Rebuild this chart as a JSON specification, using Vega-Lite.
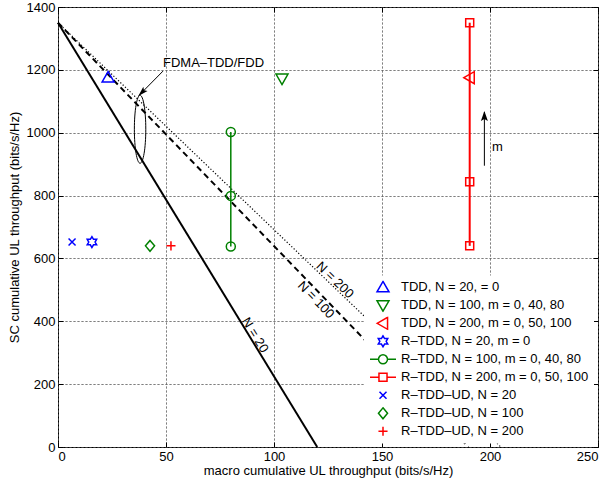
{
  "$schema": "https://vega.github.io/schema/vega-lite/v6.json",
  "width": 540,
  "height": 440,
  "autosize": {"type": "none"},
  "padding": {"left": 58, "top": 7, "right": 11, "bottom": 35},
  "background": "white",
  "config": {
    "font": "Liberation Sans",
    "view": {"stroke": "black", "strokeWidth": 1},
    "axis": {
      "labelFont": "Liberation Sans", "labelFontSize": 13, "labelColor": "black",
      "titleFont": "Liberation Sans", "titleFontSize": 13, "titleFontWeight": "normal", "titleColor": "black",
      "domain": false, "tickColor": "black", "tickSize": -5, "tickWidth": 1,
      "gridColor": "#555555", "gridDash": [1, 3], "gridWidth": 1, "labelPadding": 8
    },
    "text": {"font": "Liberation Sans", "fontSize": 13, "color": "black"}
  },
  "datasets": {
    "pts": [
      {"series": "TDD, N = 20, = 0", "x": 23.2, "y": 1176},
      {"series": "TDD, N = 100, m = 0, 40, 80", "x": 103.7, "y": 1172},
      {"series": "TDD, N = 200, m = 0, 50, 100", "x": 190.6, "y": 1175},
      {"series": "R–TDD, N = 20, m = 0", "x": 15.7, "y": 652},
      {"series": "R–TDD, N = 100, m = 0, 40, 80", "x": 80, "y": 638},
      {"series": "R–TDD, N = 100, m = 0, 40, 80", "x": 80, "y": 799},
      {"series": "R–TDD, N = 100, m = 0, 40, 80", "x": 80, "y": 1002},
      {"series": "R–TDD, N = 200, m = 0, 50, 100", "x": 190.6, "y": 640},
      {"series": "R–TDD, N = 200, m = 0, 50, 100", "x": 190.6, "y": 844},
      {"series": "R–TDD, N = 200, m = 0, 50, 100", "x": 190.6, "y": 1350},
      {"series": "R–TDD–UD, N = 20", "x": 6.5, "y": 652},
      {"series": "R–TDD–UD, N = 100", "x": 42.6, "y": 640},
      {"series": "R–TDD–UD, N = 200", "x": 52.3, "y": 640}
    ],
    "legendrows": [
      {"series": "TDD, N = 20, = 0"},
      {"series": "TDD, N = 100, m = 0, 40, 80"},
      {"series": "TDD, N = 200, m = 0, 50, 100"},
      {"series": "R–TDD, N = 20, m = 0"},
      {"series": "R–TDD, N = 100, m = 0, 40, 80"},
      {"series": "R–TDD, N = 200, m = 0, 50, 100"},
      {"series": "R–TDD–UD, N = 20"},
      {"series": "R–TDD–UD, N = 100"},
      {"series": "R–TDD–UD, N = 200"}
    ]
  },
  "layer": [
    {
      "data": {"values": [{"x": 0, "y": 1350}, {"x": 120, "y": 0}]},
      "mark": {"type": "line", "color": "black", "strokeWidth": 2},
      "encoding": {
        "x": {"field": "x", "type": "quantitative", "scale": {"domain": [0, 250], "nice": false},
          "axis": {"values": [0, 50, 100, 150, 200, 250], "format": "d", "grid": true, "title": "macro cumulative UL throughput (bits/s/Hz)", "titlePadding": 1}},
        "y": {"field": "y", "type": "quantitative", "scale": {"domain": [0, 1400], "nice": false},
          "axis": {"values": [0, 200, 400, 600, 800, 1000, 1200, 1400], "format": "d", "grid": true, "title": "SC cumulative UL throughput (bits/s/Hz)", "titlePadding": 5}}
      }
    },
    {
      "data": {"values": [{"x": 0, "y": 1350}, {"x": 190, "y": 0}]},
      "mark": {"type": "line", "color": "black", "strokeWidth": 2, "strokeDash": [6, 4]},
      "encoding": {
        "x": {"field": "x", "type": "quantitative", "axis": {"orient": "top", "values": [0, 50, 100, 150, 200, 250], "labels": false, "grid": true, "title": null}},
        "y": {"field": "y", "type": "quantitative", "axis": {"orient": "right", "values": [0, 200, 400, 600, 800, 1000, 1200, 1400], "labels": false, "grid": true, "title": null}}
      }
    },
    {
      "data": {"values": [{"x": 0, "y": 1350}, {"x": 205, "y": 0}]},
      "mark": {"type": "line", "color": "black", "strokeWidth": 1.2, "strokeDash": [1.2, 2]},
      "encoding": {
        "x": {"field": "x", "type": "quantitative", "axis": null},
        "y": {"field": "y", "type": "quantitative", "axis": null}
      }
    },
    {
      "data": {"name": "pts"},
      "transform": [{"filter": "datum.series === 'R–TDD, N = 100, m = 0, 40, 80'"}],
      "mark": {"type": "line", "color": "#008000", "strokeWidth": 1.5},
      "encoding": {
        "x": {"field": "x", "type": "quantitative", "axis": null},
        "y": {"field": "y", "type": "quantitative", "axis": null},
        "order": {"field": "y"}
      }
    },
    {
      "data": {"name": "pts"},
      "transform": [{"filter": "datum.series === 'R–TDD, N = 200, m = 0, 50, 100'"}],
      "mark": {"type": "line", "color": "#ff0000", "strokeWidth": 2},
      "encoding": {
        "x": {"field": "x", "type": "quantitative", "axis": null},
        "y": {"field": "y", "type": "quantitative", "axis": null},
        "order": {"field": "y"}
      }
    },
    {
      "data": {"name": "pts"},
      "mark": {"type": "point", "filled": false, "size": 100, "strokeWidth": 1.5, "opacity": 1},
      "encoding": {
        "x": {"field": "x", "type": "quantitative", "axis": null},
        "y": {"field": "y", "type": "quantitative", "axis": null},
        "color": {"field": "series", "type": "nominal", "legend": null,
          "scale": {"domain": ["TDD, N = 20, = 0", "TDD, N = 100, m = 0, 40, 80", "TDD, N = 200, m = 0, 50, 100", "R–TDD, N = 20, m = 0", "R–TDD, N = 100, m = 0, 40, 80", "R–TDD, N = 200, m = 0, 50, 100", "R–TDD–UD, N = 20", "R–TDD–UD, N = 100", "R–TDD–UD, N = 200"],
            "range": ["#0000ff", "#008000", "#ff0000", "#0000ff", "#008000", "#ff0000", "#0000ff", "#008000", "#ff0000"]}},
        "shape": {"field": "series", "type": "nominal", "legend": null,
          "scale": {"domain": ["TDD, N = 20, = 0", "TDD, N = 100, m = 0, 40, 80", "TDD, N = 200, m = 0, 50, 100", "R–TDD, N = 20, m = 0", "R–TDD, N = 100, m = 0, 40, 80", "R–TDD, N = 200, m = 0, 50, 100", "R–TDD–UD, N = 20", "R–TDD–UD, N = 100", "R–TDD–UD, N = 200"],
            "range": [
              "M0,-1.17L1.2,0.91L-1.2,0.91Z",
              "M0,1.17L1.2,-0.91L-1.2,-0.91Z",
              "M-1.17,0L0.91,-1.2L0.91,1.2Z",
              "M0,-1.09L0.316,-0.546L0.946,-0.546L0.632,0L0.946,0.546L0.316,0.546L0,1.09L-0.316,0.546L-0.946,0.546L-0.632,0L-0.946,-0.546L-0.316,-0.546Z",
              "M0.9,0A0.9,0.9 0 1,1 -0.9,0A0.9,0.9 0 1,1 0.9,0Z",
              "M-0.8,-0.8H0.8V0.8H-0.8Z",
              "M-0.7,-0.7L0.7,0.7M-0.7,0.7L0.7,-0.7",
              "M0,-1.09L0.91,0L0,1.09L-0.91,0Z",
              "M-0.91,0H0.91M0,-0.91V0.91"
            ]}}
      }
    },
    {
      "data": {"values": [{"x": 38, "y": 1011}]},
      "mark": {"type": "point", "filled": false, "size": 4624, "strokeWidth": 1, "color": "black", "opacity": 1,
        "shape": "M0,-1A0.168,1 0 1,1 0,1A0.168,1 0 1,1 0,-1Z"},
      "encoding": {
        "x": {"field": "x", "type": "quantitative", "axis": null},
        "y": {"field": "y", "type": "quantitative", "axis": null}
      }
    },
    {
      "data": {"values": [{"x": 48.6, "y": 1196, "x2": 37.4, "y2": 1118}, {"x": 197.4, "y": 895, "x2": 197.4, "y2": 1066}]},
      "mark": {"type": "rule", "color": "black", "strokeWidth": 1},
      "encoding": {
        "x": {"field": "x", "type": "quantitative", "axis": null},
        "y": {"field": "y", "type": "quantitative", "axis": null},
        "x2": {"field": "x2"},
        "y2": {"field": "y2"}
      }
    },
    {
      "data": {"values": [{"x": 37.2, "y": 1117}]},
      "mark": {"type": "point", "filled": true, "size": 100, "color": "black", "opacity": 1, "angle": 225,
        "shape": "M0,0L0.6,2L0,1.6L-0.6,2Z"},
      "encoding": {
        "x": {"field": "x", "type": "quantitative", "axis": null},
        "y": {"field": "y", "type": "quantitative", "axis": null}
      }
    },
    {
      "data": {"values": [{"x": 197.4, "y": 1069}]},
      "mark": {"type": "point", "filled": true, "size": 100, "color": "black", "opacity": 1,
        "shape": "M0,0L0.7,2L0,1.6L-0.7,2Z"},
      "encoding": {
        "x": {"field": "x", "type": "quantitative", "axis": null},
        "y": {"field": "y", "type": "quantitative", "axis": null}
      }
    },
    {
      "data": {"values": [{"x": 48.6, "y": 1222, "label": "FDMA–TDD/FDD"}, {"x": 200.9, "y": 954, "label": "m"}]},
      "mark": {"type": "text", "align": "left", "baseline": "middle"},
      "encoding": {
        "x": {"field": "x", "type": "quantitative", "axis": null},
        "y": {"field": "y", "type": "quantitative", "axis": null},
        "text": {"field": "label"}
      }
    },
    {
      "data": {"values": [{"x": 91.2, "y": 356, "label": "N = 20"}]},
      "mark": {"type": "text", "align": "center", "baseline": "middle", "angle": 58.6},
      "encoding": {
        "x": {"field": "x", "type": "quantitative", "axis": null},
        "y": {"field": "y", "type": "quantitative", "axis": null},
        "text": {"field": "label"}
      }
    },
    {
      "data": {"values": [{"x": 119.4, "y": 468, "label": "N = 100"}]},
      "mark": {"type": "text", "align": "center", "baseline": "middle", "angle": 46},
      "encoding": {
        "x": {"field": "x", "type": "quantitative", "axis": null},
        "y": {"field": "y", "type": "quantitative", "axis": null},
        "text": {"field": "label"}
      }
    },
    {
      "data": {"values": [{"x": 128.2, "y": 531, "label": "N = 200"}]},
      "mark": {"type": "text", "align": "center", "baseline": "middle", "angle": 43.8},
      "encoding": {
        "x": {"field": "x", "type": "quantitative", "axis": null},
        "y": {"field": "y", "type": "quantitative", "axis": null},
        "text": {"field": "label"}
      }
    },
    {
      "data": {"name": "legendrows"},
      "mark": {"type": "point", "filled": false, "size": 676, "strokeWidth": 1.5, "opacity": 0},
      "encoding": {
        "color": {"field": "series", "type": "nominal",
          "scale": {"domain": ["TDD, N = 20, = 0", "TDD, N = 100, m = 0, 40, 80", "TDD, N = 200, m = 0, 50, 100", "R–TDD, N = 20, m = 0", "R–TDD, N = 100, m = 0, 40, 80", "R–TDD, N = 200, m = 0, 50, 100", "R–TDD–UD, N = 20", "R–TDD–UD, N = 100", "R–TDD–UD, N = 200"],
            "range": ["#0000ff", "#008000", "#ff0000", "#0000ff", "#008000", "#ff0000", "#0000ff", "#008000", "#ff0000"]},
          "legend": {"title": null, "orient": "none", "legendX": 306, "legendY": 268.6, "fillColor": "white", "padding": 5,
            "labelFont": "Liberation Sans", "labelFontSize": 13, "labelColor": "black", "labelLimit": 400,
            "symbolSize": 676, "symbolStrokeWidth": 1.5, "clipHeight": 13.4, "rowPadding": 4, "labelOffset": 4, "symbolOffset": 0}},
        "shape": {"field": "series", "type": "nominal",
          "scale": {"domain": ["TDD, N = 20, = 0", "TDD, N = 100, m = 0, 40, 80", "TDD, N = 200, m = 0, 50, 100", "R–TDD, N = 20, m = 0", "R–TDD, N = 100, m = 0, 40, 80", "R–TDD, N = 200, m = 0, 50, 100", "R–TDD–UD, N = 20", "R–TDD–UD, N = 100", "R–TDD–UD, N = 200"],
            "range": [
              "M0,-0.45L0.46,0.35L-0.46,0.35Z",
              "M0,0.45L0.46,-0.35L-0.46,-0.35Z",
              "M-0.45,0L0.35,-0.46L0.35,0.46Z",
              "M0,-0.42L0.1215,-0.21L0.364,-0.21L0.243,0L0.364,0.21L0.1215,0.21L0,0.42L-0.1215,0.21L-0.364,0.21L-0.243,0L-0.364,-0.21L-0.1215,-0.21Z",
              "M-1,0H-0.346M0.346,0H1M0.346,0A0.346,0.346 0 1,1 -0.346,0A0.346,0.346 0 1,1 0.346,0Z",
              "M-1,0H-0.31M0.31,0H1M-0.31,-0.31H0.31V0.31H-0.31Z",
              "M-0.27,-0.27L0.27,0.27M-0.27,0.27L0.27,-0.27",
              "M0,-0.42L0.35,0L0,0.42L-0.35,0Z",
              "M-0.35,0H0.35M0,-0.35V0.35"
            ]},
          "legend": {"title": null, "orient": "none", "legendX": 306, "legendY": 268.6, "fillColor": "white", "padding": 5,
            "labelFont": "Liberation Sans", "labelFontSize": 13, "labelColor": "black", "labelLimit": 400,
            "symbolSize": 676, "symbolStrokeWidth": 1.5, "clipHeight": 13.4, "rowPadding": 4, "labelOffset": 4, "symbolOffset": 0}}
      }
    }
  ],
  "resolve": {
    "scale": {"color": "independent", "shape": "independent"},
    "axis": {"x": "independent", "y": "independent"}
  }
}
